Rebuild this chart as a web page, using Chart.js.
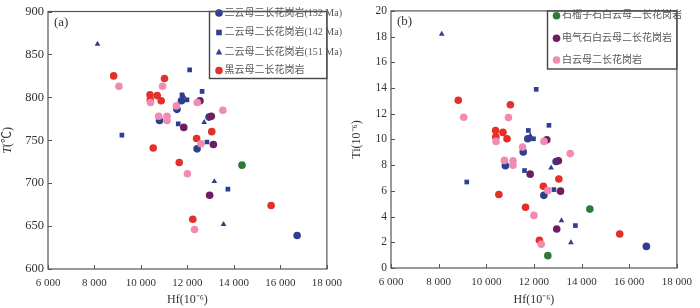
<!DOCTYPE html>
<html>
<head>
<meta charset="utf-8">
<script src="https://cdn.jsdelivr.net/npm/chart.js@4.4.1/dist/chart.umd.min.js"></script>
<style>
  body { margin: 0; background: #fff; width: 700px; height: 308px; overflow: hidden; position: relative; }
  canvas { position: absolute; top: 0; }
  #chart-a { left: 0; }
  #chart-b { left: 350px; }
</style>
</head>
<body>
<canvas id="chart-a" width="350" height="308"></canvas>
<canvas id="chart-b" width="350" height="308"></canvas>
<script>
// series names, in legend order
const seriesNames = [
  "二云母二长花岗岩(132 Ma)",
  "二云母二长花岗岩(142 Ma)",
  "二云母二长花岗岩(151 Ma)",
  "黑云母二长花岗岩",
  "石榴子石白云母二长花岗岩",
  "电气石白云母二长花岗岩",
  "白云母二长花岗岩"
];
const seriesColors = ["#2f3f8e", "#2f3f8e", "#2f3f8e", "#e3302a", "#2f7a38", "#6c1f60", "#f18bb4"];
const seriesShapes = ["circle", "rect", "triangle", "circle", "circle", "circle", "circle"];

// Hf (10^-6), T (°C) and Ti (10^-6) per series
const hf132 = [10800, 11550, 11740, 12930, 12415, 16720];
const t132  = [773, 786, 796, 777, 740, 639];
const ti132 = [7.96, 9.03, 10.05, 8.29, 5.65, 1.68];

const hf142 = [9180, 12095, 12630, 11765, 11980, 11605, 12840, 13740];
const t142  = [756, 832, 807, 803, 797, 769, 748, 693];
const ti142 = [6.69, 13.9, 11.1, 10.7, 10.05, 7.58, 6.1, 3.3];

const hf151 = [8130, 11845, 12720, 13157, 13553];
const t151  = [862, 801, 771, 702, 652];
const ti151 = [18.2, 10.3, 7.79, 3.69, 1.98];

const hfBt = [8825, 11012, 10390, 10700, 10870, 10400, 10527, 13046, 12395, 11648, 15600, 12230];
const tBt  = [825, 822, 803, 802, 796, 797, 741, 760, 752, 724, 674, 658];
const tiBt = [13.05, 12.7, 10.7, 10.55, 10.05, 10.2, 5.72, 6.92, 6.36, 4.73, 2.64, 2.16];

const hfGrt = [14347, 12583];
const tGrt  = [721, null];
const tiGrt = [4.58, 0.96];

const hfTur = [12540, 13026, 11842, 13116, 12956];
const tTur  = [796, 778, 765, 745, 686];
const tiTur = [9.97, 8.34, 7.3, 5.98, 3.03];

const hfMs = [9052, 10930, 10410, 11523, 12423, 13523, 10763, 11122, 11122, 12582, 12000, 12305];
const tMs  = [813, 813, 794, 790, 794, 785, 778, 778, 773, 746, 711, 646];
const tiMs = [11.73, 11.7, 9.85, 9.41, 9.85, 8.9, 8.37, 8.34, 7.99, 6.03, 4.09, 1.85];

const hfSeries = [hf132, hf142, hf151, hfBt, hfGrt, hfTur, hfMs];
const tSeries  = [t132, t142, t151, tBt, tGrt, tTur, tMs];
const tiSeries = [ti132, ti142, ti151, tiBt, tiGrt, tiTur, tiMs];

// draw order: pink on top, blue at the bottom
const drawOrder = [7, 6, 5, 4, 3, 2, 1];

const serif = '"Liberation Serif", "Times New Roman", "Noto Sans CJK SC", serif';
const textColor = "#333";

function buildDatasets(ySeries) {
  return seriesNames.map((name, i) => {
    const pts = [];
    hfSeries[i].forEach((hf, j) => {
      if (ySeries[i][j] != null) pts.push({ x: hf, y: ySeries[i][j] });
    });
    const r = seriesShapes[i] === "circle" ? 3.8 : 3.3;
    return {
      label: name,
      data: pts,
      backgroundColor: seriesColors[i],
      pointStyle: seriesShapes[i],
      pointRadius: r,
      pointHoverRadius: r,
      borderWidth: 0,
      order: drawOrder[i]
    };
  });
}

function drawMarker(ctx, shape, x, y, color) {
  ctx.fillStyle = color;
  ctx.beginPath();
  if (shape === "circle") {
    ctx.arc(x, y, 3.8, 0, Math.PI * 2);
  } else if (shape === "rect") {
    ctx.rect(x - 2.8, y - 2.8, 5.6, 5.6);
  } else {
    ctx.moveTo(x, y - 3.4);
    ctx.lineTo(x + 3.2, y + 2.4);
    ctx.lineTo(x - 3.2, y + 2.4);
    ctx.closePath();
  }
  ctx.fill();
}

// frame, inward ticks, legend box, panel letter and axis titles
const decorPlugin = {
  id: "decor",
  afterDatasetsDraw(chart, args, o) {
    const { ctx, chartArea: a, scales: { x, y } } = chart;
    ctx.save();

    // legend box
    const lg = o.legend;
    ctx.fillStyle = "#fff";
    ctx.fillRect(lg.left, a.top, a.right - lg.left, lg.bottom - a.top);
    ctx.strokeStyle = "#444";
    ctx.lineWidth = 1.4;
    ctx.strokeRect(lg.left, a.top, a.right - lg.left, lg.bottom - a.top);
    ctx.font = "10px " + serif;
    ctx.textBaseline = "middle";
    ctx.textAlign = "left";
    lg.items.forEach((idx, k) => {
      const ry = lg.rows[k];
      drawMarker(ctx, seriesShapes[idx], lg.markerX, ry, seriesColors[idx]);
      ctx.fillStyle = "#585858";
      ctx.fillText(seriesNames[idx], lg.textX, ry);
    });

    // plot frame
    ctx.strokeStyle = "#555";
    ctx.lineWidth = 1.2;
    ctx.strokeRect(a.left, a.top, a.right - a.left, a.bottom - a.top);

    // inward tick marks
    ctx.beginPath();
    x.ticks.forEach(t => {
      const px = Math.round(x.getPixelForValue(t.value)) + 0.5;
      ctx.moveTo(px, a.bottom);
      ctx.lineTo(px, a.bottom - 4);
    });
    y.ticks.forEach(t => {
      const py = Math.round(y.getPixelForValue(t.value)) + 0.5;
      ctx.moveTo(a.left, py);
      ctx.lineTo(a.left + 4, py);
    });
    ctx.lineWidth = 1;
    ctx.stroke();

    // panel letter
    ctx.fillStyle = textColor;
    ctx.font = "13px " + serif;
    ctx.fillText(o.letter, a.left + 6, a.top + 11);

    // x title
    ctx.font = "12px " + serif;
    ctx.textAlign = "center";
    ctx.fillText("Hf(10⁻⁶)", (a.left + a.right) / 2, 300);

    // y title, rotated
    ctx.translate(o.yTitleX, (a.top + a.bottom) / 2);
    ctx.rotate(-Math.PI / 2);
    const parts = o.yTitle;
    let total = 0;
    parts.forEach(p => { ctx.font = p.font; total += ctx.measureText(p.text).width; });
    let cx = -total / 2;
    ctx.textAlign = "left";
    parts.forEach(p => {
      ctx.font = p.font;
      ctx.fillText(p.text, cx, 0);
      cx += ctx.measureText(p.text).width;
    });
    ctx.restore();
  }
};

function hfLabel(v) {
  return String(v).replace(/(\d)(?=(\d{3})$)/, "$1 ");
}

function makeChart(id, ySeries, cfg) {
  new Chart(document.getElementById(id), {
    type: "scatter",
    data: { datasets: buildDatasets(ySeries) },
    options: {
      responsive: false,
      animation: false,
      devicePixelRatio: 1,
      layout: { padding: cfg.padding },
      plugins: {
        legend: { display: false },
        tooltip: { enabled: false },
        decor: cfg.decor
      },
      scales: {
        x: {
          type: "linear",
          min: 6000, max: 18000,
          afterFit: s => { s.height = cfg.xHeight; },
          grid: { display: false, drawTicks: false },
          border: { display: false },
          ticks: {
            stepSize: 2000,
            padding: 8,
            color: textColor,
            font: { family: serif, size: 11 },
            callback: v => hfLabel(v),
            maxRotation: 0
          }
        },
        y: {
          type: "linear",
          min: cfg.yMin, max: cfg.yMax,
          afterFit: s => { s.width = cfg.yWidth; },
          grid: { display: false, drawTicks: false },
          border: { display: false },
          ticks: {
            stepSize: cfg.yStep,
            padding: 4,
            color: textColor,
            font: { family: serif, size: cfg.yFont }
          }
        }
      }
    },
    plugins: [decorPlugin]
  });
}

makeChart("chart-a", tSeries, {
  padding: { left: 0, top: 4, right: 16, bottom: 0 },
  xHeight: 39, yWidth: 48,
  yMin: 600, yMax: 900, yStep: 50, yFont: 12.5,
  decor: {
    letter: "(a)",
    yTitleX: 8,
    yTitle: [
      { text: "T", font: "italic 12px " + serif },
      { text: "(℃)", font: "12px " + serif }
    ],
    legend: {
      left: 209.5, bottom: 78.5, markerX: 219, textX: 224.5,
      items: [0, 1, 2, 3],
      rows: [13, 32.5, 52, 70.5]
    }
  }
});

makeChart("chart-b", tiSeries, {
  padding: { left: 0, top: 6, right: 17, bottom: 0 },
  xHeight: 40, yWidth: 41,
  yMin: 0, yMax: 20, yStep: 2, yFont: 11.5,
  decor: {
    letter: "(b)",
    yTitleX: 7,
    yTitle: [
      { text: "Ti(10⁻⁶)", font: "12px " + serif }
    ],
    legend: {
      left: 197.5, bottom: 69, markerX: 206.5, textX: 212,
      items: [4, 5, 6],
      rows: [15.7, 38.3, 60]
    }
  }
});
</script>
</body>
</html>
